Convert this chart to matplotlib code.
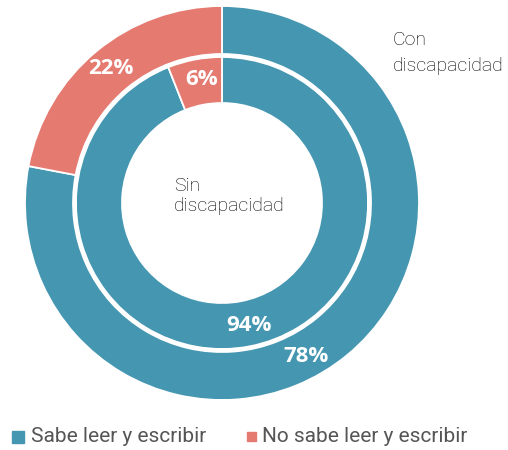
import numpy as np
import matplotlib.pyplot as plt
from matplotlib.patches import Rectangle

# Datos
categorias = ['Sabe leer y escribir', 'No sabe leer y escribir']
con_discapacidad = [78, 22]
sin_discapacidad = [94, 6]
colores = ['#4596b1', '#e57a71']

plt.rcParams['font.family'] = ['Roboto', 'DejaVu Sans']

fig = plt.figure(figsize=(5.08, 4.5), dpi=100)
ax = fig.add_axes([0, 0, 1, 1])
ax.set_xlim(0, 508)
ax.set_ylim(0, 450)
ax.set_aspect('equal')
ax.axis('off')

centro = (222, 247)
r_ext, w_ext = 197, 48
r_int, w_int = 146, 46

anillos = [(con_discapacidad, r_ext, w_ext), (sin_discapacidad, r_int, w_int)]
# desplazamiento angular de etiquetas (grados) por anillo/porción
ajuste = [[-11, 0], [1.5, -1.6]]

for k, (valores, r, w) in enumerate(anillos):
    wedges, _ = ax.pie(valores, radius=r, center=centro, colors=colores,
                       startangle=90, counterclock=False,
                       wedgeprops=dict(width=w, edgecolor='white', linewidth=1.3))
    for j, wd in enumerate(wedges):
        ang = np.deg2rad((wd.theta1 + wd.theta2) / 2 + ajuste[k][j])
        rm = r - w / 2 + 2
        ax.text(centro[0] + rm * np.cos(ang), centro[1] + rm * np.sin(ang),
                f'{valores[j]}%', color='white', fontsize=16, fontweight='bold',
                family=['Open Sans', 'DejaVu Sans'], ha='center', va='center')

ax.set_xlim(0, 508)
ax.set_ylim(0, 450)

ax.text(393, 397, 'Con\ndiscapacidad', fontsize=14, color='black',
        fontweight='light', ha='left', va='center', linespacing=1.55)
ax.text(174, 254, 'Sin\ndiscapacidad', fontsize=14, color='black',
        fontweight='light', ha='left', va='center', linespacing=1.2)

# Leyenda
ax.add_patch(Rectangle((12, 7), 12, 12, color=colores[0]))
ax.text(31, 13, categorias[0], fontsize=15, color='#555555', va='center')
ax.add_patch(Rectangle((247, 9), 9, 9, color=colores[1]))
ax.text(262, 13, categorias[1], fontsize=15, color='#555555', va='center')

fig.savefig('out.png', dpi=100)
